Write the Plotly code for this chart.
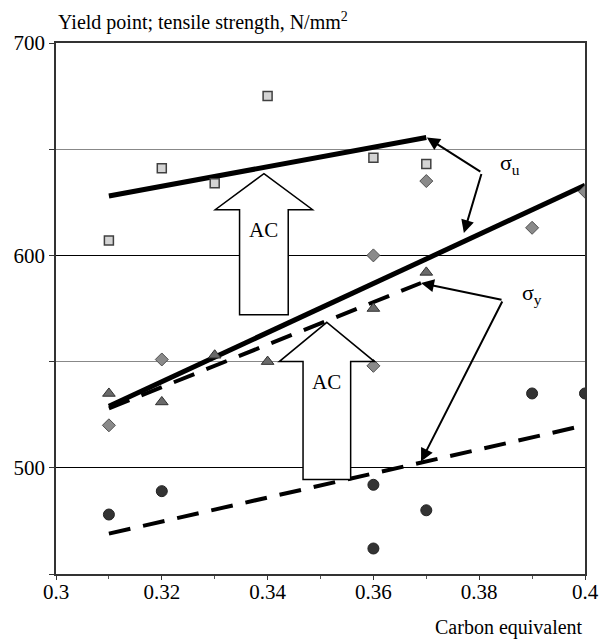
import plotly.graph_objects as go

# ---- data ----
sq_x = [0.31, 0.32, 0.33, 0.34, 0.36, 0.37]
sq_y = [607, 641, 634, 675, 646, 643]

dia_x = [0.31, 0.32, 0.36, 0.36, 0.37, 0.39, 0.40]
dia_y = [520, 551, 600, 548, 635, 613, 630]

tri_x = [0.31, 0.32, 0.33, 0.34, 0.36, 0.37]
tri_y = [535, 531, 553, 550, 575, 592]

cir_x = [0.31, 0.32, 0.36, 0.36, 0.37, 0.39, 0.40]
cir_y = [478, 489, 492, 462, 480, 535, 535]

su_ac_x = [0.31, 0.37]
su_ac_y = [628, 655.5]
su_x = [0.31, 0.40]
su_y = [529, 633]
sy_ac_x = [0.31, 0.369]
sy_ac_y = [528, 587]
sy_x = [0.31, 0.40]
sy_y = [469, 520]

x_ticks = [0.3, 0.32, 0.34, 0.36, 0.38, 0.4]
x_ticklabels = ["0.3", "0.32", "0.34", "0.36", "0.38", "0.4"]
y_ticks = [500, 600, 700]

FONT = "Liberation Serif"

fig = go.Figure()

def line(x, y, dash=None):
    fig.add_trace(go.Scatter(x=x, y=y, mode="lines",
                             line=dict(color="black", width=5 if dash is None else 4, dash=dash),
                             hoverinfo="skip"))

line(su_ac_x, su_ac_y)
line(su_x, su_y)
line(sy_ac_x, sy_ac_y, "22px,13px")
line(sy_x, sy_y, "22px,13px")

fig.add_trace(go.Scatter(x=sq_x, y=sq_y, mode="markers",
                         marker=dict(symbol="square", size=9, color="#d4d4d4",
                                     line=dict(color="#404040", width=1.5))))
fig.add_trace(go.Scatter(x=dia_x, y=dia_y, mode="markers",
                         marker=dict(symbol="diamond", size=10, color="#8a8a8a",
                                     line=dict(color="#505050", width=1))))
fig.add_trace(go.Scatter(x=tri_x, y=tri_y, mode="markers",
                         marker=dict(symbol="triangle-up", size=11, color="#6a6a6a",
                                     line=dict(color="#303030", width=1))))
fig.add_trace(go.Scatter(x=cir_x, y=cir_y, mode="markers",
                         marker=dict(symbol="circle", size=11, color="#333333",
                                     line=dict(color="#222222", width=1))))

# hollow "AC" arrows (data coordinates)
def block_arrow(cx, tip, base, bottom, hw, sw):
    p = (f"M {cx},{tip} L {cx+hw},{base} L {cx+sw},{base} L {cx+sw},{bottom} "
         f"L {cx-sw},{bottom} L {cx-sw},{base} L {cx-hw},{base} Z")
    fig.add_shape(type="path", path=p, xref="x", yref="y",
                  fillcolor="white", line=dict(color="black", width=1.5), layer="above")

block_arrow(0.3393, 638.5, 621.5, 572, 0.0092, 0.0046)
block_arrow(0.3512, 568.5, 550, 494.5, 0.0090, 0.0045)

fig.add_annotation(x=0.3393, y=612, text="AC", showarrow=False,
                   font=dict(family=FONT, size=21, color="black"))
fig.add_annotation(x=0.3512, y=540.5, text="AC", showarrow=False,
                   font=dict(family=FONT, size=21, color="black"))

# sigma labels with callout arrows
fig.add_annotation(x=0.3858, y=643, text="σ<sub>u</sub>", showarrow=False,
                   font=dict(family=FONT, size=22, color="black"))
fig.add_annotation(x=0.39, y=582, text="σ<sub>y</sub>", showarrow=False,
                   font=dict(family=FONT, size=22, color="black"))

def callout(x0, y0, x1, y1):
    fig.add_annotation(x=x1, y=y1, ax=x0, ay=y0, xref="x", yref="y",
                       axref="x", ayref="y", text="", showarrow=True,
                       arrowhead=2, arrowsize=1.3, arrowwidth=2, arrowcolor="black")

callout(0.3805, 639, 0.3701, 655.5)
callout(0.3805, 639, 0.3771, 610.5)
callout(0.3845, 579, 0.3690, 587)
callout(0.3845, 579, 0.3690, 503)

fig.add_annotation(xref="paper", yref="paper", x=0.0, y=1.0, yshift=7,
                   xanchor="left", yanchor="bottom", showarrow=False,
                   text="Yield point; tensile strength, N/mm<sup>2</sup>",
                   font=dict(family=FONT, size=20, color="black"))
fig.add_annotation(xref="paper", yref="paper", x=1.0, y=0, yshift=-40,
                   xanchor="right", yanchor="top", showarrow=False,
                   text="Carbon equivalent",
                   font=dict(family=FONT, size=20, color="black"))

fig.update_layout(
    width=611, height=639,
    margin=dict(l=56, r=14, t=43, b=65),
    paper_bgcolor="white", plot_bgcolor="white",
    showlegend=False,
    font=dict(family=FONT, size=20, color="black"),
    xaxis=dict(range=[0.3, 0.4], tickvals=x_ticks, ticktext=x_ticklabels,
               showgrid=False, zeroline=False, showline=True, linecolor="#333333",
               linewidth=1.5, mirror=True, ticks="outside", ticklen=4,
               tickcolor="#333333", ticklabelstandoff=-6,
               minor=dict(dtick=0.01, ticks="outside", ticklen=3, tickcolor="#555555"),
               tickfont=dict(family=FONT, size=21)),
    yaxis=dict(range=[450, 700], tickvals=y_ticks,
               showgrid=True, gridcolor="black", gridwidth=1,
               zeroline=False, showline=True, linecolor="#333333", linewidth=1.5,
               mirror=True, ticks="outside", ticklen=5, tickcolor="#333333",
               minor=dict(dtick=50, showgrid=True, gridcolor="#888888", gridwidth=1,
                          ticks="outside", ticklen=5, tickcolor="#333333"),
               tickfont=dict(family=FONT, size=21)),
)

fig.write_html("out.html")
